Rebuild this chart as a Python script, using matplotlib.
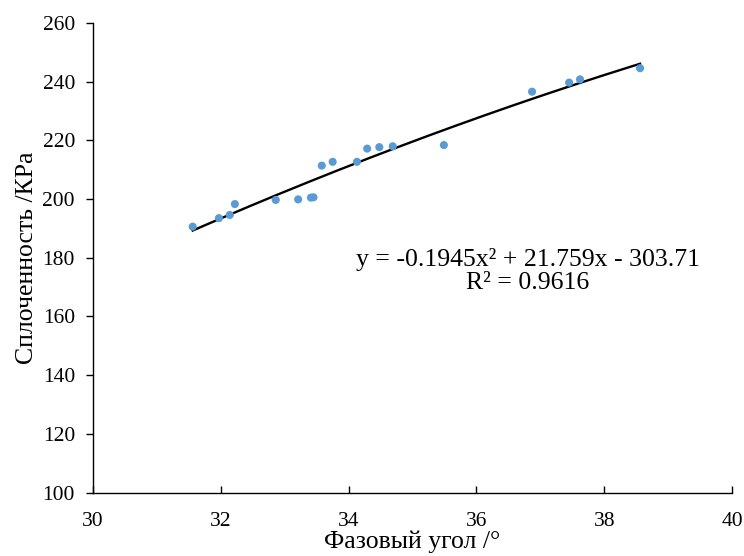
import numpy as np
import matplotlib
matplotlib.use("Agg")
import matplotlib.pyplot as plt

# Phase angle (deg) vs cohesion (kPa)
phase_angle = [31.56, 31.97, 32.14, 32.22, 32.86, 33.21, 33.41, 33.45, 33.58, 33.75,
               34.13, 34.29, 34.48, 34.69, 35.49, 36.87, 37.45, 37.62, 38.56]
cohesion = [190.6, 193.5, 194.6, 198.3, 199.7, 199.9, 200.5, 200.6, 211.4, 212.7,
            212.7, 217.2, 217.7, 218.0, 218.4, 236.6, 239.7, 240.8, 244.6]

# Quadratic trend coefficients
coef_a, coef_b, coef_c = -0.1945, 21.759, -303.71
r_squared = 0.9616

x_ticks = [30, 32, 34, 36, 38, 40]
y_ticks = [100, 120, 140, 160, 180, 200, 220, 240, 260]

plt.rcParams['font.family'] = ['Liberation Serif', 'DejaVu Serif']

fig = plt.figure(figsize=(7.44, 5.56), dpi=100)
ax = fig.add_axes([0.125, 0.1142, 0.859, 0.8444])

ax.scatter(phase_angle, cohesion, s=34, color='#5B9BD5', edgecolors='none', zorder=3)

xs = np.linspace(min(phase_angle), max(phase_angle), 200)
ys = coef_a * xs**2 + coef_b * xs + coef_c
ax.plot(xs, ys, color='black', lw=1.7, zorder=2)

ax.set_xlim(30, 40)
ax.set_ylim(100, 260)
ax.set_xticks(x_ticks)
ax.set_yticks(y_ticks)

for side in ('top', 'right'):
    ax.spines[side].set_visible(False)
for side in ('left', 'bottom'):
    ax.spines[side].set_linewidth(1.0)
    ax.spines[side].set_color('black')

ax.tick_params(axis='x', direction='in', length=5, width=1, labelsize=15.5, pad=14)
ax.tick_params(axis='y', direction='out', length=5, width=1, labelsize=15.5, pad=8)

ax.set_xlabel('Фазовый угол /°', fontsize=18.5, labelpad=0)
ax.set_ylabel('Сплоченность /КРа', fontsize=18.5, labelpad=3)

eq = f"y = {coef_a}x² + {coef_b}x - {abs(coef_c)}\nR² = {r_squared}"
ax.text(36.80, 175.5, eq, ha='center', va='center', multialignment='center',
        fontsize=18.5, linespacing=1.1)

fig.savefig('out.png', dpi=100)
